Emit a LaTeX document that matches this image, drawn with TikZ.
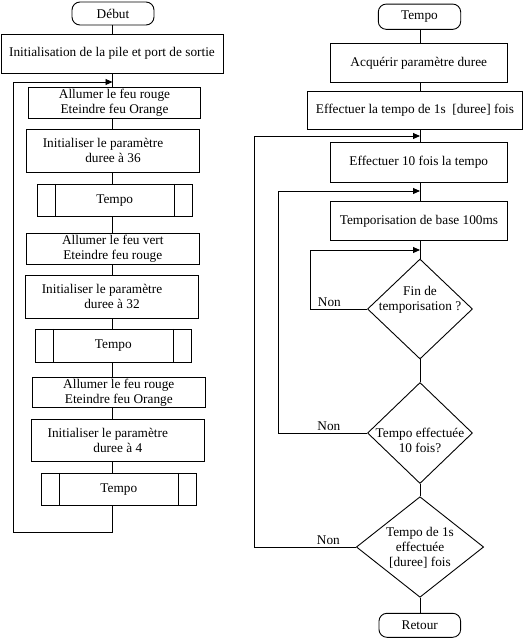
\documentclass[tikz,border=0pt]{standalone}
\usepackage{fontspec}
\setmainfont{Liberation Serif}
\usetikzlibrary{arrows.meta,calc,shapes.geometric}
\tikzset{
    myterm/.style={draw=black,line width=0.9pt,rounded corners=8pt,inner sep=0pt},
    mybox/.style={draw=black,line width=0.9pt,inner sep=0pt,align=center},
    mysub/.style={draw=black,line width=0.9pt,inner sep=0pt},
    mydec/.style={diamond,draw=black,line width=0.9pt,inner sep=0pt},
    myedge/.style={line width=0.9pt,draw=black},
    myarrow/.style={line width=0.9pt,draw=black,-{Triangle[length=7pt,width=6pt]}},
    mylabel/.style={above,inner sep=1.5pt},
    every node/.style={font=\fontsize{13.3}{15}\selectfont}
}

\begin{document}
\begin{tikzpicture}[x=1pt,y=-1pt]
  \useasboundingbox (0,0) rectangle (530,638);
  \coordinate (spineL) at (112.5,0);
  \coordinate (spineR) at (420,0);

  % main program
  \node[myterm,minimum width=82pt,minimum height=23pt] (debut) at (113,13.5) {Début};
  \node[mybox,minimum width=222pt,minimum height=39pt] (init) at (112,53.5) {Initialisation de la pile et port de sortie};
  \node[mybox,minimum width=172pt,minimum height=31pt] (allumA) at (114.5,102.7) {Allumer le feu rouge\\Eteindre feu Orange};
  \node[mybox,minimum width=172.7pt,minimum height=43.3pt] (paramA) at (113,150.7) {Initialiser le paramètre\rule{20pt}{0pt}\\duree à 36};
  \node[mysub,minimum width=155.3pt,minimum height=31.7pt] (tempoA) at (114.7,200.2) {Tempo};
  \node[mybox,minimum width=173pt,minimum height=31pt] (allumB) at (112.8,248.8) {Allumer le feu vert\\Eteindre feu rouge};
  \node[mybox,minimum width=173.4pt,minimum height=42.7pt] (paramB) at (112,296.7) {Initialiser le paramètre\rule{20pt}{0pt}\\duree à 32};
  \node[mysub,minimum width=156pt,minimum height=33pt] (tempoB) at (113.3,345.8) {Tempo};
  \node[mybox,minimum width=173pt,minimum height=30pt] (allumC) at (118.8,392.3) {Allumer le feu rouge\\Eteindre feu Orange};
  \node[mybox,minimum width=173pt,minimum height=41.7pt] (paramC) at (117.8,440.2) {Initialiser le paramètre\rule{20pt}{0pt}\\duree à 4};
  \node[mysub,minimum width=155pt,minimum height=31.7pt] (tempoC) at (118.8,489.2) {Tempo};

  \foreach \a/\b in {debut/init,init/allumA,allumA/paramA,paramA/tempoA,tempoA/allumB,
                     allumB/paramB,paramB/tempoB,tempoB/allumC,allumC/paramC,paramC/tempoC}{
    \draw[myedge] (\a.south -| spineL) -- (\b.north -| spineL);
  }
  \coordinate (loopB) at (112.5,532);
  \coordinate (loopC) at (13,532);
  \coordinate (loopT) at (13,82);
  \coordinate (loopIn) at (112.5,82);
  \draw[myarrow] (tempoC.south -| spineL) -- (loopB) -- (loopC) -- (loopT) -- (loopIn);

  % sub-routine Tempo
  \node[myterm,minimum width=82.4pt,minimum height=25.3pt] (tempoT) at (419.5,16.7) {Tempo};
  \node[mybox,minimum width=177.7pt,minimum height=39pt] (acq) at (418.8,62.8) {Acquérir paramètre duree};
  \node[mybox,minimum width=215.4pt,minimum height=37.6pt] (effA) at (415,110.5) {Effectuer la tempo de 1s\ \ [duree] fois};
  \node[mybox,minimum width=177.7pt,minimum height=40pt] (effB) at (418.8,162.7) {Effectuer 10 fois la tempo};
  \node[mybox,minimum width=176.6pt,minimum height=39.7pt] (tbase) at (419,220.8) {Temporisation de base 100ms};
  \node[mydec,minimum width=105pt,minimum height=100pt] (fin) at (420,309) {};
  \node[align=center] at ($(fin)+(0,-9)$) {Fin de\\temporisation ?};
  \node[mydec,minimum width=105pt,minimum height=101pt] (tdix) at (420,433) {};
  \node[align=center] at ($(tdix)+(0,7)$) {Tempo effectuée\\10 fois?};
  \node[mydec,minimum width=127.3pt,minimum height=100.6pt] (tun) at (420,547) {};
  \node[align=center] at ($(tun)+(0,1)$) {Tempo de 1s\\effectuée\\{}[duree] fois};
  \node[myterm,minimum width=81.7pt,minimum height=24pt] (retour) at (419.8,625.3) {Retour};

  \foreach \a/\b in {tempoT/acq,acq/effA,effA/effB,effB/tbase,tbase/fin,fin/tdix,tdix/tun,tun/retour}{
    \draw[myedge] (\a.south -| spineR) -- (\b.north -| spineR);
  }

  \coordinate (finL) at (310,309);
  \coordinate (finT) at (310,250);
  \coordinate (finIn) at (420,250);
  \draw[myarrow] (fin.west) -- node[mylabel,pos=0.66] {Non} (finL) -- (finT) -- (finIn);

  \coordinate (dixL) at (278.3,433);
  \coordinate (dixT) at (278.3,191);
  \coordinate (dixIn) at (420,191);
  \draw[myarrow] (tdix.west) -- node[mylabel,pos=0.43] {Non} (dixL) -- (dixT) -- (dixIn);

  \coordinate (unL) at (254,547);
  \coordinate (unT) at (254,136);
  \coordinate (unIn) at (420,136);
  \draw[myarrow] (tun.west) -- node[mylabel,pos=0.27] {Non} (unL) -- (unT) -- (unIn);

  \foreach \P in {tempoA,tempoB,tempoC}{
    \draw[myedge] ($(\P.north west)+(18.5,0)$) -- ($(\P.south west)+(18.5,0)$);
    \draw[myedge] ($(\P.north east)+(-18.5,0)$) -- ($(\P.south east)+(-18.5,0)$);
  }
\end{tikzpicture}
\end{document}
